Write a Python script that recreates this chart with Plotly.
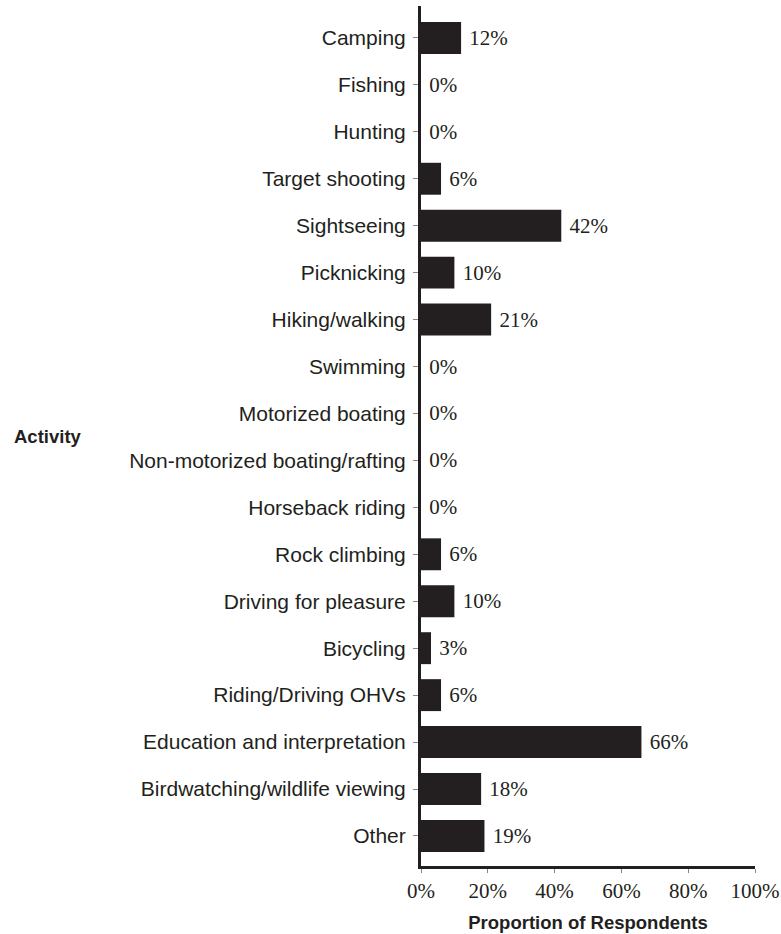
import plotly.graph_objects as go

activities = [
    'Camping', 'Fishing', 'Hunting', 'Target shooting', 'Sightseeing',
    'Picknicking', 'Hiking/walking', 'Swimming', 'Motorized boating',
    'Non-motorized boating/rafting', 'Horseback riding', 'Rock climbing',
    'Driving for pleasure', 'Bicycling', 'Riding/Driving OHVs',
    'Education and interpretation', 'Birdwatching/wildlife viewing', 'Other',
]
percent = [12, 0, 0, 6, 42, 10, 21, 0, 0, 0, 0, 6, 10, 3, 6, 66, 18, 19]
x_ticks = [0, 20, 40, 60, 80, 100]

ink = '#231f20'
serif = 'Palatino Linotype, Book Antiqua, Liberation Serif, serif'
sans = 'Liberation Sans, Arial, sans-serif'

fig = go.Figure()
fig.add_trace(go.Bar(
    y=activities,
    x=percent,
    orientation='h',
    width=0.68,
    marker=dict(color=ink, line=dict(width=0)),
    text=['\u00a0' + f'{v}%' for v in percent],
    textposition='outside',
    cliponaxis=False,
    textfont=dict(family=serif, size=21, color=ink),
    showlegend=False,
    hoverinfo='skip',
))

fig.update_layout(
    template=None,
    width=781,
    height=934,
    paper_bgcolor='white',
    plot_bgcolor='white',
    margin=dict(l=421, r=26, t=6, b=68),
    xaxis=dict(
        range=[0, 100],
        tickvals=x_ticks,
        ticktext=[f'{t}%' for t in x_ticks],
        tickfont=dict(family=serif, size=21, color=ink),
        ticks='outside',
        ticklen=4,
        tickwidth=1,
        tickcolor='#888888',
        showgrid=False,
        zeroline=False,
        showline=True,
        linewidth=3,
        linecolor=ink,
        title=dict(text='<b>Proportion of Respondents</b>',
                   font=dict(family=sans, size=18.5, color=ink), standoff=14),
    ),
    yaxis=dict(
        categoryorder='array',
        categoryarray=activities,
        autorange=False,
        range=[17.64, -0.68],
        tickfont=dict(family=sans, size=21, color=ink),
        ticks='outside',
        ticklen=5,
        tickwidth=1,
        tickcolor='#888888',
        ticklabelstandoff=3,
        showgrid=False,
        zeroline=False,
        showline=True,
        linewidth=3,
        linecolor=ink,
    ),
    annotations=[dict(
        text='<b>Activity</b>',
        xref='paper', yref='paper',
        x=(12 - 421) / 334, y=(866 - 436) / 860,
        xanchor='left', yanchor='middle',
        showarrow=False,
        font=dict(family=sans, size=18.5, color=ink),
    )],
)

fig.write_html('out.html', config={'displayModeBar': False},
               post_script="document.body.style.margin='0';")
